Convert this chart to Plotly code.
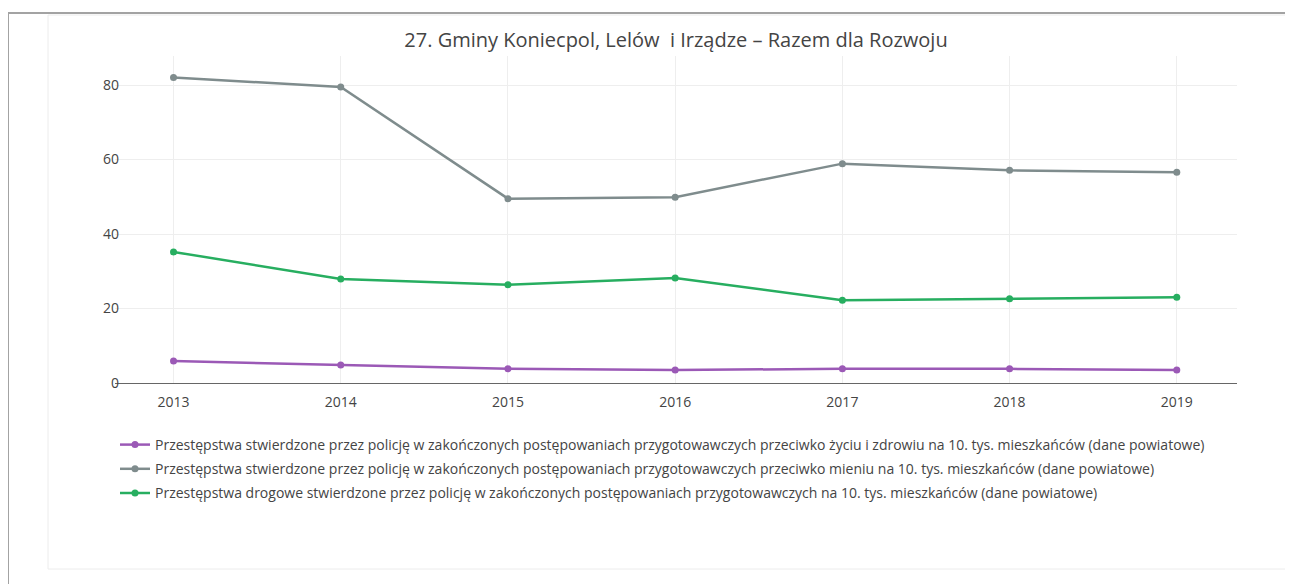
import plotly.graph_objects as go

years = [2013, 2014, 2015, 2016, 2017, 2018, 2019]

name_life = ("Przestępstwa stwierdzone przez policję w zakończonych postępowaniach przygotowawczych "
             "przeciwko życiu i zdrowiu na 10. tys. mieszkańców (dane powiatowe)")
name_property = ("Przestępstwa stwierdzone przez policję w zakończonych postępowaniach przygotowawczych "
                 "przeciwko mieniu na 10. tys. mieszkańców (dane powiatowe)")
name_road = ("Przestępstwa drogowe stwierdzone przez policję w zakończonych postępowaniach "
             "przygotowawczych na 10. tys. mieszkańców (dane powiatowe)")

life_values = [5.9, 4.8, 3.8, 3.5, 3.8, 3.8, 3.5]
property_values = [82.0, 79.5, 49.5, 49.9, 58.9, 57.1, 56.6]
road_values = [35.2, 27.9, 26.4, 28.2, 22.2, 22.6, 23.0]

title_text = "27. Gminy Koniecpol, Lelów  i Irządze – Razem dla Rozwoju"

# the page body has an 8px margin, so the figure starts at (8, 8) in the window
OFF = 8
W, H = 1293 - OFF, 584 - OFF
L, R, T, B = 115 - OFF, 1237 - OFF, 56 - OFF, 383 - OFF


def px(x):
    # window pixel -> paper x
    return (x - OFF - L) / (R - L)


def py(y):
    # window pixel -> paper y
    return (B - (y - OFF)) / (B - T)


fig = go.Figure()
for name, vals, color in [(name_life, life_values, "#9b59b6"),
                          (name_property, property_values, "#7f8c8d"),
                          (name_road, road_values, "#27ae60")]:
    fig.add_trace(go.Scatter(x=years, y=vals, name=name, legendgroup=name, mode="lines+markers",
                             line=dict(color=color, width=2.5),
                             marker=dict(color=color, size=7)))

# page frame around the chart
fig.add_shape(type="line", xref="paper", yref="paper", x0=px(8), x1=px(1300),
              y0=py(13), y1=py(13), line=dict(color="#a3a3a3", width=2))
fig.add_shape(type="line", xref="paper", yref="paper", x0=px(8), x1=px(8),
              y0=py(13), y1=py(590), line=dict(color="#a3a3a3", width=2))
fig.add_shape(type="rect", xref="paper", yref="paper", x0=px(48), x1=px(1300),
              y0=py(15), y1=py(569), line=dict(color="#ececec", width=1))

fig.update_layout(
    width=W, height=H,
    paper_bgcolor="white", plot_bgcolor="white",
    margin=dict(l=L, r=W - R, t=T, b=H - B),
    font=dict(family="Open Sans", size=14, color="#444"),
    title=dict(text=title_text, xref="paper", x=0.5, xanchor="center",
               y=1 - (40 - OFF) / H, yanchor="middle",
               font=dict(size=20, color="#444")),
    showlegend=True,
    legend=dict(x=0, xanchor="left", y=py(429), yanchor="top",
                font=dict(size=14, color="#444"), tracegroupgap=3),
)
fig.update_xaxes(range=[2012.65, 2019.36], tickvals=years, showgrid=True, gridcolor="#eeeeee",
                 showline=True, linecolor="#666", linewidth=1, zeroline=False,
                 ticklabelstandoff=6, tickfont=dict(size=14, color="#444"))
fig.update_yaxes(range=[0, 87.8], tickvals=[0, 20, 40, 60, 80], showgrid=True, gridcolor="#eeeeee",
                 zeroline=False, ticklabelstandoff=-5, tickfont=dict(size=14, color="#444"))

fig.write_html("out.html")
